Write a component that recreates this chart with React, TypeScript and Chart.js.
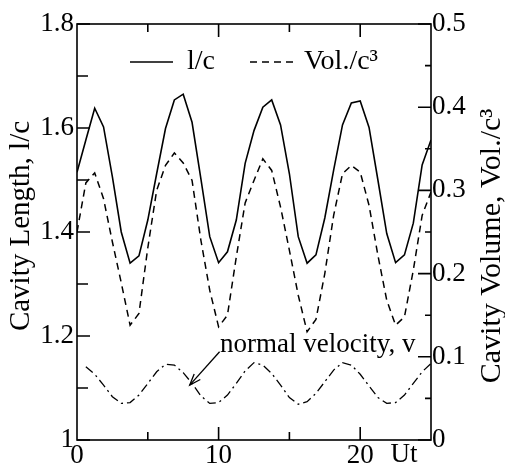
import { useEffect, useRef } from 'react';
import { Chart, registerables } from 'chart.js';
Chart.register(...registerables);

const UT = [0, 0.625, 1.25, 1.875, 2.5, 3.125, 3.75, 4.375, 5, 5.625, 6.25, 6.875, 7.5, 8.125, 8.75, 9.375, 10, 10.625, 11.25, 11.875, 12.5, 13.125, 13.75, 14.375, 15, 15.625, 16.25, 16.875, 17.5, 18.125, 18.75, 19.375, 20, 20.625, 21.25, 21.875, 22.5, 23.125, 23.75, 24.375, 25];
const LENGTH = [1.515, 1.577, 1.638, 1.602, 1.506, 1.4, 1.34, 1.354, 1.423, 1.512, 1.599, 1.654, 1.665, 1.611, 1.502, 1.391, 1.341, 1.362, 1.423, 1.532, 1.595, 1.64, 1.654, 1.606, 1.512, 1.391, 1.34, 1.356, 1.427, 1.519, 1.606, 1.648, 1.652, 1.601, 1.5, 1.397, 1.341, 1.356, 1.417, 1.529, 1.577];
const VOLUME = [0.25, 0.309, 0.321, 0.29, 0.238, 0.189, 0.138, 0.152, 0.231, 0.3, 0.33, 0.345, 0.333, 0.312, 0.24, 0.18, 0.136, 0.15, 0.22, 0.285, 0.312, 0.338, 0.324, 0.28, 0.228, 0.174, 0.13, 0.145, 0.2, 0.27, 0.32, 0.33, 0.322, 0.282, 0.222, 0.168, 0.138, 0.148, 0.204, 0.27, 0.298];
const VELOCITY = [null, 0.088, 0.079, 0.066, 0.052, 0.044, 0.045, 0.054, 0.068, 0.082, 0.091, 0.09, 0.081, 0.068, 0.053, 0.044, 0.045, 0.054, 0.068, 0.083, 0.093, 0.09, 0.08, 0.066, 0.051, 0.043, 0.046, 0.056, 0.07, 0.084, 0.093, 0.09, 0.079, 0.065, 0.051, 0.044, 0.045, 0.054, 0.068, 0.082, 0.092];

const X_LABELS = [0, 10, 20];
const X_TICKS = [5, 10, 15, 20];
const LEFT_LABELS = [1, 1.2, 1.4, 1.6, 1.8];
const LEFT_MINOR = [1.1, 1.3, 1.5, 1.7];
const RIGHT_LABELS = [0, 0.1, 0.2, 0.3, 0.4, 0.5];
const RIGHT_MINOR = [0.05, 0.15, 0.25, 0.35, 0.45];

const FONT = "'Liberation Serif', 'Times New Roman', serif";

const pts = (vals: (number | null)[]) => UT.map((t, i) => ({ x: t, y: vals[i] }));

const overlay = {
  id: 'overlay',
  afterDraw(chart: any) {
    const ctx = chart.ctx;
    const { left, right, top, bottom } = chart.chartArea;
    const xs = chart.scales.x, ys = chart.scales.y, y1 = chart.scales.y1;
    ctx.save();
    ctx.strokeStyle = '#000';
    ctx.fillStyle = '#000';
    ctx.lineWidth = 1.6;
    ctx.setLineDash([]);
    ctx.strokeRect(left, top, right - left, bottom - top);
    ctx.beginPath();
    for (const v of X_TICKS) {
      const px = xs.getPixelForValue(v);
      const len = v % 10 === 0 ? 13 : 8;
      ctx.moveTo(px, bottom); ctx.lineTo(px, bottom - len);
      ctx.moveTo(px, top); ctx.lineTo(px, top + len);
    }
    for (const v of LEFT_LABELS) { const py = ys.getPixelForValue(v); ctx.moveTo(left, py); ctx.lineTo(left + 13, py); }
    for (const v of LEFT_MINOR) { const py = ys.getPixelForValue(v); ctx.moveTo(left, py); ctx.lineTo(left + 11, py); }
    for (const v of RIGHT_LABELS) { const py = y1.getPixelForValue(v); ctx.moveTo(right, py); ctx.lineTo(right - 13, py); }
    for (const v of RIGHT_MINOR) { const py = y1.getPixelForValue(v); ctx.moveTo(right, py); ctx.lineTo(right - 6, py); }
    ctx.stroke();

    // legend
    const ly = 62;
    ctx.lineWidth = 1.5;
    ctx.beginPath(); ctx.moveTo(130, ly); ctx.lineTo(173, ly); ctx.stroke();
    ctx.setLineDash([7, 5]);
    ctx.beginPath(); ctx.moveTo(250, ly); ctx.lineTo(294, ly); ctx.stroke();
    ctx.setLineDash([]);
    ctx.font = `28px ${FONT}`;
    ctx.textBaseline = 'middle';
    ctx.textAlign = 'left';
    ctx.fillText('l/c', 187, ly);
    ctx.fillText('Vol./c³', 304, ly);

    // Ut label
    ctx.font = `27px ${FONT}`;
    ctx.textBaseline = 'top';
    ctx.textAlign = 'center';
    ctx.fillText('Ut', xs.getPixelForValue(23.1), bottom + 1);

    // annotation
    ctx.font = `27px ${FONT}`;
    ctx.textAlign = 'left';
    ctx.textBaseline = 'middle';
    ctx.fillText('normal velocity, v', xs.getPixelForValue(10.1), y1.getPixelForValue(0.114));
    const tx = xs.getPixelForValue(10.07), ty = y1.getPixelForValue(0.106);
    const hx = xs.getPixelForValue(7.96), hy = y1.getPixelForValue(0.066);
    ctx.lineWidth = 1.3;
    ctx.beginPath(); ctx.moveTo(tx, ty); ctx.lineTo(hx, hy); ctx.stroke();
    const ang = Math.atan2(hy - ty, hx - tx);
    ctx.beginPath();
    ctx.moveTo(hx - 12 * Math.cos(ang - 0.35), hy - 12 * Math.sin(ang - 0.35));
    ctx.lineTo(hx, hy);
    ctx.lineTo(hx - 12 * Math.cos(ang + 0.35), hy - 12 * Math.sin(ang + 0.35));
    ctx.stroke();

    // axis titles
    ctx.font = `29px ${FONT}`;
    ctx.textAlign = 'center';
    ctx.textBaseline = 'middle';
    ctx.save();
    ctx.translate(21, (top + bottom) / 2 - 6);
    ctx.rotate(-Math.PI / 2);
    ctx.fillText('Cavity Length, l/c', 0, 0);
    ctx.restore();
    ctx.font = `30px ${FONT}`;
    ctx.save();
    ctx.translate(492, (top + bottom) / 2 + 14);
    ctx.rotate(-Math.PI / 2);
    ctx.fillText('Cavity Volume, Vol./c³', 0, 0);
    ctx.restore();
    ctx.restore();
  },
};

export default function App() {
  const ref = useRef<HTMLCanvasElement>(null);
  useEffect(() => {
    if (!ref.current) return;
    const chart = new Chart(ref.current, {
      type: 'line',
      data: {
        datasets: [
          { label: 'l/c', data: pts(LENGTH), yAxisID: 'y', borderColor: '#000', borderWidth: 1.6, pointRadius: 0, tension: 0, fill: false },
          { label: 'Vol./c³', data: pts(VOLUME), yAxisID: 'y1', borderColor: '#000', borderWidth: 1.5, borderDash: [7, 5], pointRadius: 0, tension: 0, fill: false },
          { label: 'normal velocity, v', data: pts(VELOCITY), yAxisID: 'y1', borderColor: '#000', borderWidth: 1.3, borderDash: [9, 4, 2, 4], pointRadius: 0, tension: 0, fill: false },
        ],
      },
      options: {
        animation: false,
        responsive: false,
        devicePixelRatio: 1,
        layout: { padding: { top: 24, left: 0, right: 0, bottom: 0 } },
        plugins: { legend: { display: false }, tooltip: { enabled: false } },
        font: { family: FONT },
        scales: {
          x: {
            type: 'linear', min: 0, max: 25,
            grid: { display: false, drawTicks: false }, border: { display: false },
            afterBuildTicks: (s: any) => { s.ticks = X_LABELS.map((v) => ({ value: v })); },
            afterFit: (s: any) => { s.height = 27; },
            ticks: { color: '#000', font: { family: FONT, size: 27 }, padding: 0, maxRotation: 0, autoSkip: false, callback: (v: any) => String(v) },
          },
          y: {
            type: 'linear', position: 'left', min: 1, max: 1.8,
            grid: { display: false, drawTicks: false }, border: { display: false },
            afterBuildTicks: (s: any) => { s.ticks = LEFT_LABELS.map((v) => ({ value: v })); },
            afterFit: (s: any) => { s.width = 77; },
            ticks: { color: '#000', font: { family: FONT, size: 27 }, padding: 3, autoSkip: false, callback: (v: any) => (v === 1 ? '1' : Number(v).toFixed(1)) },
          },
          y1: {
            type: 'linear', position: 'right', min: 0, max: 0.5,
            grid: { display: false, drawTicks: false }, border: { display: false },
            afterBuildTicks: (s: any) => { s.ticks = RIGHT_LABELS.map((v) => ({ value: v })); },
            afterFit: (s: any) => { s.width = 74; },
            ticks: { color: '#000', font: { family: FONT, size: 27 }, padding: 1, autoSkip: false, callback: (v: any) => (v === 0 ? '0' : Number(v).toFixed(1)) },
          },
        },
      },
      plugins: [overlay],
    } as any);
    return () => chart.destroy();
  }, []);
  return (
    <div style={{ position: 'fixed', left: 0, top: 0, width: 505, height: 467, background: '#fff' }}>
      <canvas ref={ref} width={505} height={467} style={{ width: 505, height: 467, display: 'block' }} />
    </div>
  );
}
